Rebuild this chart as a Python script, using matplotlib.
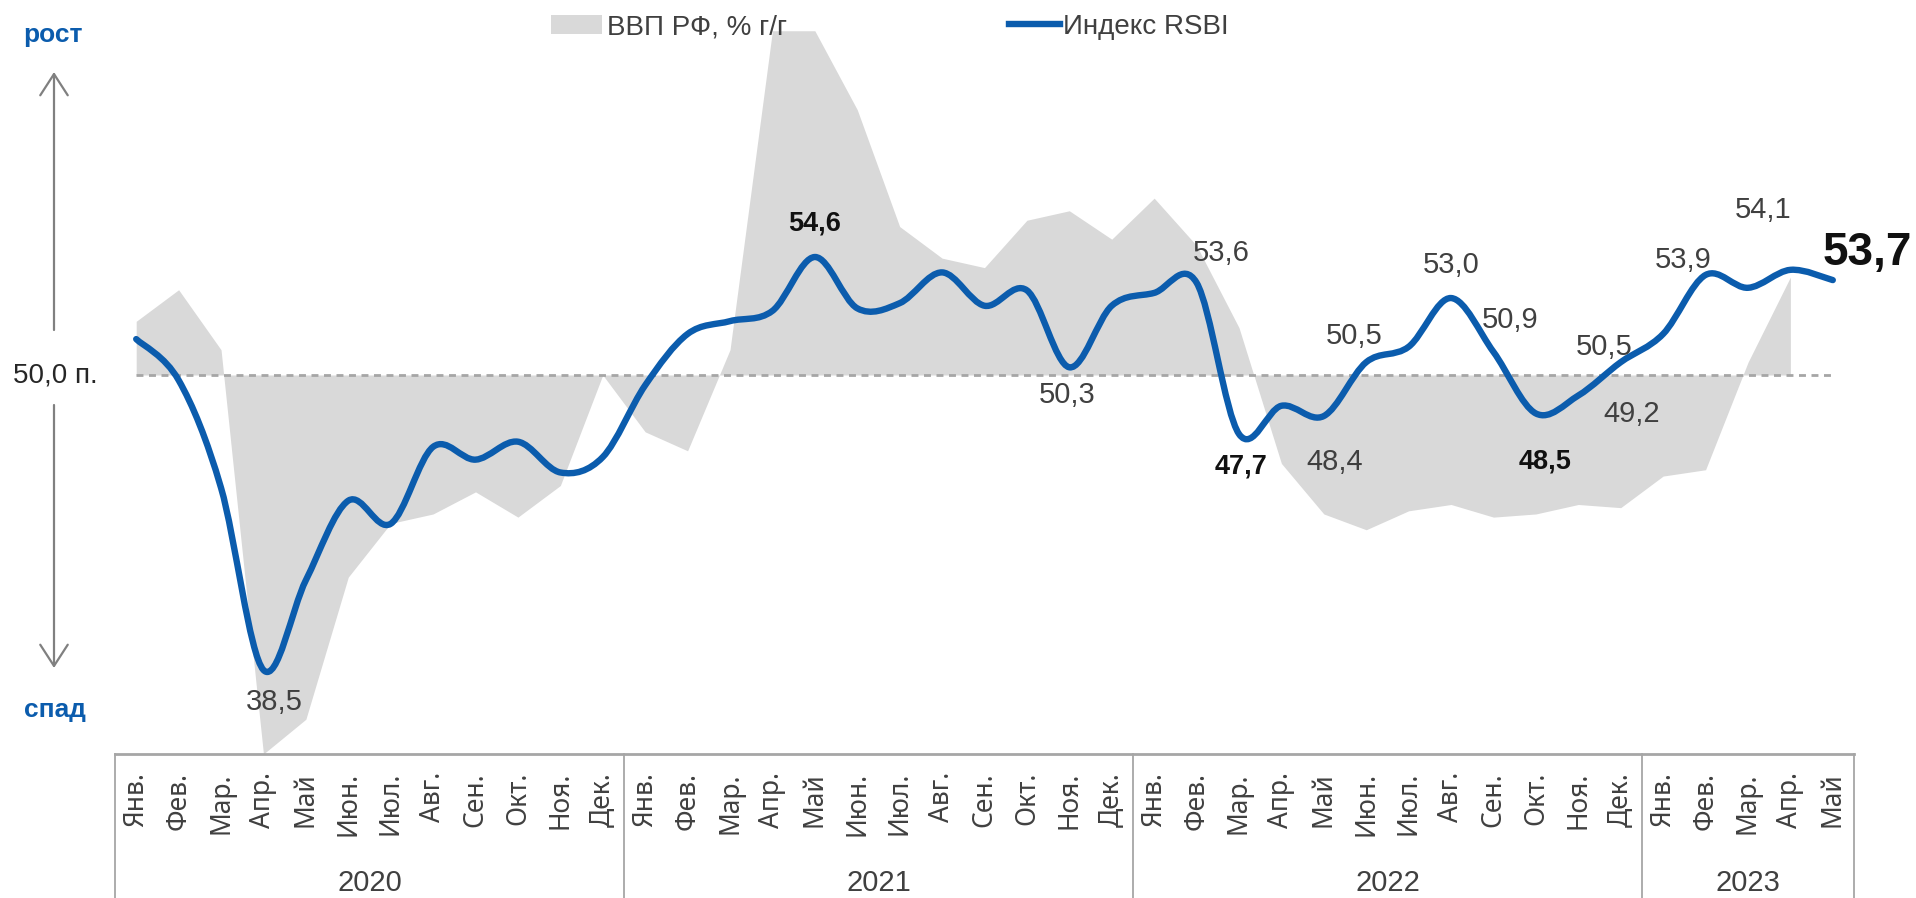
import numpy as np
import matplotlib.pyplot as plt
from matplotlib.path import Path
from matplotlib.patches import PathPatch, Patch, FancyArrowPatch
from matplotlib.lines import Line2D

plt.rcParams['font.family'] = ['Liberation Sans Narrow', 'Liberation Sans', 'DejaVu Sans']

# ---- data -------------------------------------------------------------
months = ["Янв.", "Фев.", "Мар.", "Апр.", "Май", "Июн.", "Июл.", "Авг.",
          "Сен.", "Окт.", "Ноя.", "Дек."]
month_labels = months * 3 + months[:5]
years = ["2020", "2021", "2022", "2023"]
year_len = [12, 12, 12, 5]

rsbi = [51.4, 49.8, 45.6, 38.5, 42.0, 45.1, 44.2, 47.2, 46.7, 47.4, 46.2, 46.8,
        49.6, 51.6, 52.1, 52.5, 54.6, 52.6, 52.8, 54.0, 52.7, 53.3, 50.3, 52.7,
        53.2, 53.6, 47.7, 48.8, 48.4, 50.5, 51.1, 53.0, 50.9, 48.5, 49.2, 50.5,
        51.6, 53.9, 53.4, 54.1, 53.7]

gdp = [1.7, 2.7, 0.8, -12.0, -10.9, -6.4, -4.7, -4.4, -3.7, -4.5, -3.5, 0.0,
       -1.8, -2.4, 0.8, 10.9, 10.9, 8.4, 4.7, 3.7, 3.4, 4.9, 5.2, 4.3,
       5.6, 4.1, 1.5, -2.8, -4.4, -4.9, -4.3, -4.1, -4.5, -4.4, -4.1, -4.2,
       -3.2, -3.0, 0.4, 3.1]

labelled = [3, 16, 22, 25, 26, 28, 29, 31, 32, 33, 34, 35, 37, 39, 40]
bold_points = [16, 26, 33]
last_point = 40

# label placement (pixel offsets from the point)
label_offsets = {3: (11, -32), 16: (0, 34), 22: (-2, -28), 25: (25, 30),
                 26: (2, -33), 28: (11, -46), 29: (-12, 26), 31: (0, 33),
                 32: (17, 32), 33: (9, -48), 34: (53, -18), 35: (-17, 15),
                 37: (-22, 15), 39: (-27, 60), 40: (34, 27)}

BLUE = "#0B5CAD"
GREY = "#D9D9D9"
TXT = "#404040"
W, H = 1916, 898


def fx(px):
    return px / W


def fy(py):
    return 1 - py / H


def smooth_path(xs, ys):
    pts = np.column_stack([xs, ys]).astype(float)
    n = len(pts)
    verts, codes = [pts[0]], [Path.MOVETO]
    for i in range(n - 1):
        p0, p1 = pts[max(i - 1, 0)], pts[i]
        p2, p3 = pts[i + 1], pts[min(i + 2, n - 1)]
        verts += [p1 + (p2 - p0) / 6, p2 - (p3 - p1) / 6, p2]
        codes += [Path.CURVE4] * 3
    return Path(verts, codes)


fig = plt.figure(figsize=(W / 100, H / 100), dpi=100)
ax = fig.add_axes([fx(115), fy(754), fx(1854) - fx(115), fy(30) - fy(754)])
ax2 = ax.twinx()

n = len(month_labels)
x = np.arange(n)

# GDP area (secondary scale, 0 aligned with 50)
xg = np.arange(len(gdp))
ax.fill_between(xg, 0, gdp, color=GREY, lw=0)
ax.set_ylim(-12.0, 345 / (379 / 12.0))
ax.set_xlim(-0.5, n - 0.5)

# RSBI line
ax2.set_ylim(50 - 379 / 25.65, 50 + 345 / 25.65)
ax2.plot([0, n - 1], [50, 50], color="#A6A6A6", lw=2, ls=(0, (2.5, 2)), zorder=1)
ax2.add_patch(PathPatch(smooth_path(x, rsbi), fill=False, color=BLUE, lw=4.6,
                        capstyle="round", joinstyle="round", zorder=3))

for i in labelled:
    dx, dy = label_offsets[i]
    txt = f"{rsbi[i]:.1f}".replace(".", ",")
    if i == last_point:
        kw = dict(fontsize=33, fontweight="bold", color="#111111",
                  family=["Liberation Sans", "DejaVu Sans"])
    elif i in bold_points:
        kw = dict(fontsize=19.5, fontweight="bold", color="#111111",
                  family=["Liberation Sans", "DejaVu Sans"])
    else:
        kw = dict(fontsize=21, color=TXT)
    ax2.annotate(txt, (i, rsbi[i]), xytext=(dx, dy), textcoords="offset pixels",
                 ha="center", va="center", annotation_clip=False, **kw)

# axes styling
for a in (ax, ax2):
    for s in a.spines.values():
        s.set_visible(False)
    a.set_yticks([])
ax.spines["bottom"].set_visible(True)
ax.spines["bottom"].set_color("#A6A6A6")
ax.spines["bottom"].set_linewidth(2)

ax.set_xticks(x)
ax.set_xticklabels(month_labels, rotation=90, fontsize=19, color=TXT,
                   family=["Noto Sans", "DejaVu Sans"])
ax.tick_params(axis="x", length=0, pad=13)

# category table: separators and year labels
bounds = np.concatenate([[0], np.cumsum(year_len)]) - 0.5
for b in bounds:
    ax.plot([b, b], [0, -0.2], transform=ax.get_xaxis_transform(),
            color="#A6A6A6", lw=1.3, clip_on=False)
for yr, a0, a1 in zip(years, bounds[:-1], bounds[1:]):
    ax.text((a0 + a1) / 2, -0.178, yr, transform=ax.get_xaxis_transform(),
            ha="center", va="center", fontsize=21, color=TXT)

# legend
fig.legend(handles=[Patch(color=GREY, lw=0)], labels=["ВВП РФ, % г/г"],
           loc="center left", bbox_to_anchor=(fx(551), fy(27)), frameon=False,
           fontsize=20, handlelength=1.85, handleheight=0.65, handletextpad=0.15,
           borderpad=0, borderaxespad=0, labelcolor=TXT)
fig.legend(handles=[Line2D([], [], color=BLUE, lw=4.6)], labels=["Индекс RSBI"],
           loc="center left", bbox_to_anchor=(fx(1009), fy(27)), frameon=False,
           fontsize=20, handlelength=1.85, handletextpad=0.1,
           borderpad=0, borderaxespad=0, labelcolor=TXT)

# left-hand guide
fig.text(fx(53), fy(35), "рост", ha="center", va="center", fontsize=19,
         fontweight="bold", color=BLUE)
fig.text(fx(55), fy(710), "спад", ha="center", va="center", fontsize=19,
         fontweight="bold", color=BLUE)
fig.text(fx(55), fy(375), "50,0 п.", ha="center", va="center", fontsize=20,
         color="#262626")
arrow = dict(arrowstyle="->,head_length=0.85,head_width=0.55", color="#808080",
             lw=1.6, mutation_scale=18, shrinkA=0, shrinkB=0)
fig.add_artist(FancyArrowPatch((fx(54), fy(330)), (fx(54), fy(72)),
                               transform=fig.transFigure, **arrow))
fig.add_artist(FancyArrowPatch((fx(54), fy(405)), (fx(54), fy(668)),
                               transform=fig.transFigure, **arrow))

fig.savefig("out.png", dpi=100)
